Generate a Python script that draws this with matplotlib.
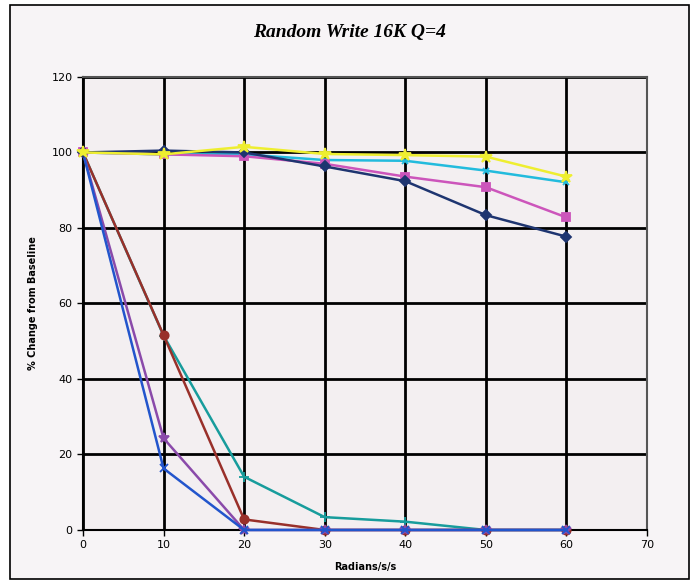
import matplotlib
matplotlib.use("Agg")
import matplotlib.pyplot as plt
from matplotlib.patches import Rectangle

x = [0, 10, 20, 30, 40, 50, 60]
navy = [100, 100.5, 100, 96.3, 92.4, 83.4, 77.7]
magenta = [100, 99.5, 99, 97, 93.6, 90.8, 82.8]
cyan = [100, 99.5, 99.5, 98, 97.8, 95.2, 92.1]
yellow = [100, 99.5, 101.5, 99.6, 99.3, 98.9, 93.6]
brown = [100, 51.6, 2.8, 0, 0, 0, 0]
teal = [100, 51.5, 14.1, 3.4, 2.2, 0, 0]
purple = [100, 24.3, 0, 0, 0, 0, 0]
blue = [100, 16.3, 0, 0, 0, 0, 0]

xticks = [0, 10, 20, 30, 40, 50, 60, 70]
yticks = [0, 20, 40, 60, 80, 100, 120]

fig = plt.figure(figsize=(6.99, 5.84), dpi=100)
fig.patch.set_facecolor("white")
fig.add_artist(Rectangle((0.014, 0.008), 0.972, 0.984, transform=fig.transFigure,
                         fill=True, facecolor="#f7f4f6", edgecolor="black", lw=1.2,
                         zorder=-10))

ax = fig.add_axes([0.1187, 0.0925, 0.8069, 0.7757])
ax.set_facecolor("#f3eff1")
ax.set_xlim(0, 70)
ax.set_ylim(0, 120)
ax.set_xticks(xticks)
ax.set_yticks(yticks)
ax.grid(True, color="black", lw=2.0)
ax.set_axisbelow(True)
for s in ["top", "right"]:
    ax.spines[s].set_color("#555555")
    ax.spines[s].set_linewidth(1.5)
for s in ["left", "bottom"]:
    ax.spines[s].set_color("black")
    ax.spines[s].set_linewidth(1.5)
ax.tick_params(labelsize=8, length=4, width=1, colors="black")

series = [
    (teal, "#179c9c", "+", 7),
    (brown, "#99302a", "o", 6),
    (purple, "#8a4aaa", "*", 7),
    (blue, "#2255cc", "x", 6),
    (cyan, "#22bbdd", "x", 5),
    (magenta, "#cc55bb", "s", 6),
    (navy, "#1e3570", "D", 5),
    (yellow, "#eeee30", "*", 9),
]
for ys, c, m, ms in series:
    ax.plot(x, ys, color=c, lw=1.8, marker=m, ms=ms, mew=1.3, mec=c, mfc=c, zorder=3,
            clip_on=False)

fig.text(0.5, 0.945, "Random Write 16K Q=4", ha="center", va="center",
         fontsize=14, fontweight="bold", fontstyle="italic", family="Liberation Serif")
ax.set_xlabel("Radians/s/s", fontsize=7, fontweight="bold", labelpad=8)
ax.set_ylabel("% Change from Baseline", fontsize=7, fontweight="bold", labelpad=10)

fig.savefig("out.png", dpi=100)
